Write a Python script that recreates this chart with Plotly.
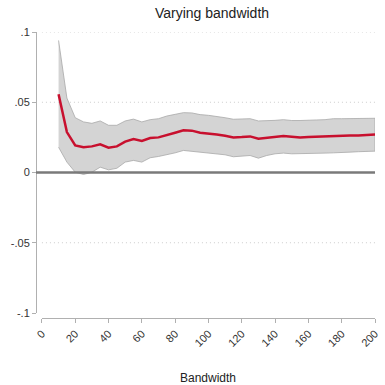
import plotly.graph_objects as go

bandwidth = list(range(10, 205, 5))
estimate = [0.0557, 0.0288, 0.0193, 0.0180, 0.0186, 0.0200, 0.0176, 0.0186, 0.0220, 0.0238,
            0.0224, 0.0245, 0.0250, 0.0264, 0.0283, 0.0300, 0.0298, 0.0283, 0.0279, 0.0271,
            0.0262, 0.0250, 0.0252, 0.0257, 0.0240, 0.0248, 0.0257, 0.0260, 0.0255, 0.0250,
            0.0252, 0.0255, 0.0255, 0.0262, 0.0264, 0.0264, 0.0264, 0.0267, 0.0271]
upper = [0.0940, 0.0530, 0.0390, 0.0360, 0.0350, 0.0367, 0.0336, 0.0336, 0.0367, 0.0380,
         0.0360, 0.0376, 0.0383, 0.0402, 0.0414, 0.0426, 0.0424, 0.0412, 0.0407, 0.0400,
         0.0390, 0.0379, 0.0379, 0.0383, 0.0367, 0.0367, 0.0371, 0.0376, 0.0370, 0.0370,
         0.0370, 0.0374, 0.0376, 0.0383, 0.0383, 0.0383, 0.0383, 0.0386, 0.0386]
lower = [0.0180, 0.0074, 0.0002, -0.0014, 0.0002, 0.0038, 0.0019, 0.0030, 0.0074, 0.0086,
         0.0074, 0.0105, 0.0114, 0.0126, 0.0140, 0.0157, 0.0155, 0.0145, 0.0140, 0.0133,
         0.0126, 0.0112, 0.0114, 0.0121, 0.0102, 0.0121, 0.0133, 0.0138, 0.0133, 0.0131,
         0.0133, 0.0136, 0.0138, 0.0140, 0.0145, 0.0145, 0.0148, 0.0152, 0.0152]

y_ticks = [-0.1, -0.05, 0, 0.05, 0.1]
y_labels = ["-.1", "-.05", "0", ".05", ".1"]
x_ticks = list(range(0, 201, 20))
grid_vals = [0.1, 0.05, -0.05]

FONT = "Arial, Liberation Sans, sans-serif"
W, H = 385, 385
L, R, T, B = 36, 5, 32, 67
pw, ph = W - L - R, H - T - B

fig = go.Figure()
fig.add_trace(go.Scatter(
    x=bandwidth + bandwidth[::-1],
    y=upper + lower[::-1],
    fill="toself", fillcolor="#d4d4d4",
    line=dict(color="#a8a8a8", width=0.8),
    mode="lines", hoverinfo="skip", showlegend=False))
fig.add_trace(go.Scatter(
    x=bandwidth, y=estimate, mode="lines",
    line=dict(color="#c8102e", width=2.5), showlegend=False))

for g in grid_vals:
    fig.add_shape(type="line", xref="x domain", yref="y", x0=0, x1=1, y0=g, y1=g,
                  line=dict(color="#cccccc", width=1, dash="1px,3px"), layer="below")
fig.add_shape(type="line", xref="paper", yref="y", x0=0, x1=1, y0=0, y1=0,
              line=dict(color="#7a7a7a", width=2.5), layer="above")

fig.update_layout(
    width=W, height=H,
    margin=dict(l=L, r=R, t=T, b=B),
    paper_bgcolor="white", plot_bgcolor="white",
    font=dict(family=FONT, size=11, color="#333333"),
    title=dict(text="Varying bandwidth", x=212 / W, xref="container", xanchor="center",
               y=1 - 13 / H, yref="container", yanchor="middle",
               font=dict(size=14, color="#222222", family=FONT)),
    xaxis=dict(range=[0, 200.001], domain=[6 / pw, 1], anchor="free", position=0,
               tickvals=x_ticks, ticktext=[str(v) for v in x_ticks], tickangle=-45,
               ticklabeloverflow="allow",
               ticks="outside", ticklen=4, tickcolor="#b0b0b0",
               showline=True, linecolor="#b0b0b0", linewidth=1,
               showgrid=False, zeroline=False, tickfont=dict(size=11, color="#333333")),
    yaxis=dict(range=[-0.1, 0.1], domain=[5 / ph, 1], anchor="free", position=0,
               tickvals=y_ticks, ticktext=y_labels,
               ticks="outside", ticklen=4, tickcolor="#b0b0b0",
               showline=True, linecolor="#b0b0b0", linewidth=1,
               showgrid=False, zeroline=False, tickfont=dict(size=11, color="#333333")),
)
fig.add_annotation(text="Bandwidth", xref="paper", yref="paper",
                   x=(211 - L) / pw, y=-(378 - (T + ph)) / ph, xanchor="center", yanchor="middle",
                   showarrow=False, font=dict(size=12, color="#222222", family=FONT))

fig.write_html("out.html")
